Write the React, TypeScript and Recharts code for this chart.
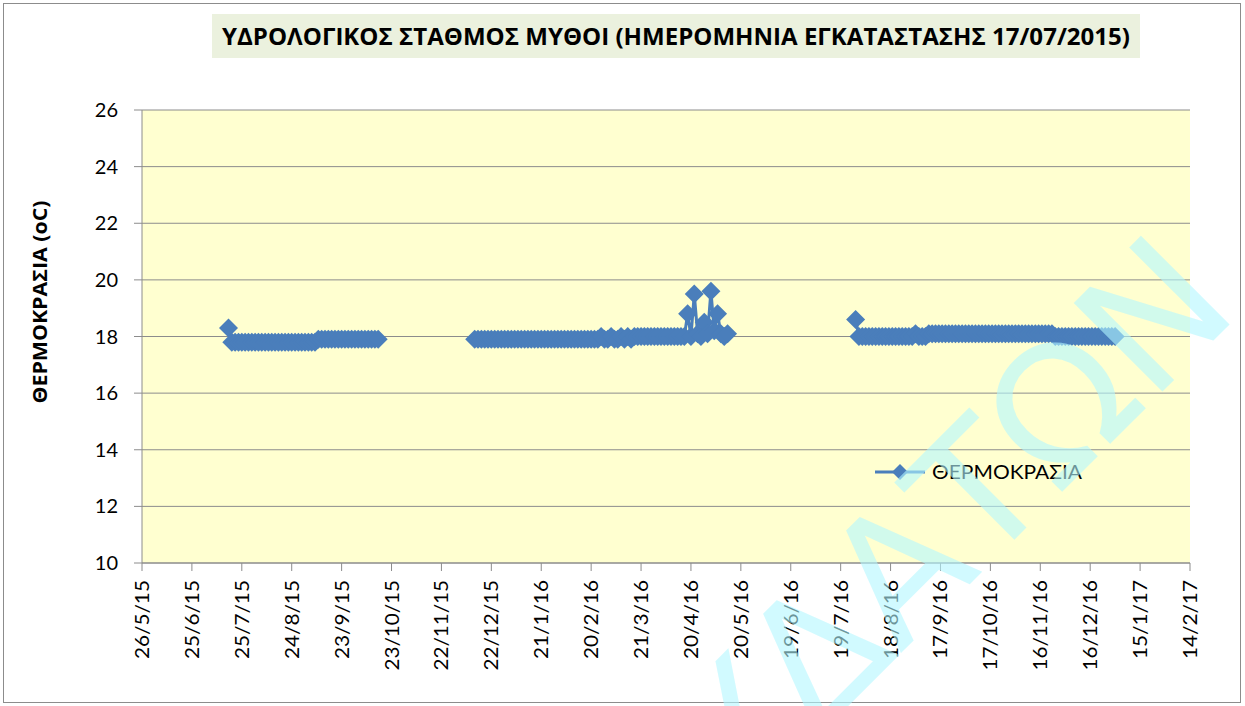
import React from 'react';
import { LineChart, Line, XAxis, YAxis, CartesianGrid } from 'recharts';

const xTickLabels = [
  '26/5/15', '25/6/15', '25/7/15', '24/8/15', '23/9/15', '23/10/15', '22/11/15',
  '22/12/15', '21/1/16', '20/2/16', '21/3/16', '20/4/16', '20/5/16', '19/6/16',
  '19/7/16', '18/8/16', '17/9/16', '17/10/16', '16/11/16', '16/12/16', '15/1/17',
  '14/2/17',
];
const yTicks = [10, 12, 14, 16, 18, 20, 22, 24, 26];

// readings every 2 days, three recording periods
const seg1Start = '2015-07-17';
const seg1 = [
  18.3,
  17.8, 17.8, 17.8, 17.8, 17.8, 17.8, 17.8, 17.8, 17.8, 17.8,
  17.8, 17.8, 17.8, 17.8, 17.8, 17.8, 17.8, 17.8, 17.8, 17.8,
  17.8, 17.8, 17.8, 17.8, 17.8, 17.8,
  17.9, 17.9, 17.9, 17.9, 17.9, 17.9, 17.9, 17.9, 17.9, 17.9,
  17.9, 17.9, 17.9, 17.9, 17.9, 17.9, 17.9, 17.9, 17.9,
];
const seg2Start = '2015-12-12';
const seg2 = [
  17.9, 17.9, 17.9, 17.9, 17.9, 17.9, 17.9, 17.9, 17.9, 17.9,
  17.9, 17.9, 17.9, 17.9, 17.9, 17.9, 17.9, 17.9, 17.9, 17.9,
  17.9, 17.9, 17.9, 17.9, 17.9, 17.9, 17.9, 17.9, 17.9, 17.9,
  17.9, 17.9, 17.9, 17.9, 17.9, 17.9, 17.9, 17.9,
  18.0, 17.9, 17.9, 18.0, 17.9, 17.9, 18.0, 17.9, 18.0, 17.9,
  18.0, 18.0, 18.0, 18.0, 18.0, 18.0, 18.0, 18.0, 18.0, 18.0,
  18.0, 18.0, 18.0, 18.0, 18.0, 18.0,
  18.8, 18.0, 19.5, 18.1, 18.0, 18.5, 18.1, 19.6, 18.2, 18.8,
  18.1, 18.0, 18.1,
];
const seg3Start = '2016-07-28';
const seg3 = [
  18.6,
  18.0, 18.0, 18.0, 18.0, 18.0, 18.0, 18.0, 18.0, 18.0, 18.0,
  18.0, 18.0, 18.0, 18.0, 18.0, 18.0, 18.0,
  18.1, 18.0, 18.0, 18.0,
  18.1, 18.1, 18.1, 18.1, 18.1, 18.1, 18.1, 18.1, 18.1, 18.1,
  18.1, 18.1, 18.1, 18.1, 18.1, 18.1, 18.1, 18.1, 18.1, 18.1,
  18.1, 18.1, 18.1, 18.1, 18.1, 18.1, 18.1, 18.1, 18.1, 18.1,
  18.1, 18.1, 18.1, 18.1, 18.1, 18.1, 18.1, 18.1,
  18.0, 18.0, 18.0, 18.0, 18.0, 18.0, 18.0, 18.0, 18.0, 18.0,
  18.0, 18.0, 18.0, 18.0, 18.0, 18.0, 18.0, 18.0, 18.0,
];

const DAY = 86400000;
const labelToDay = (s: string) => {
  const [d, m, y] = s.split('/').map(Number);
  return Date.UTC(2000 + y, m - 1, d) / DAY;
};
const isoToDay = (s: string) => {
  const [y, m, d] = s.split('-').map(Number);
  return Date.UTC(y, m - 1, d) / DAY;
};
const dayToLabel = (day: number) => {
  const dt = new Date(day * DAY);
  return `${dt.getUTCDate()}/${dt.getUTCMonth() + 1}/${dt.getUTCFullYear() % 100}`;
};

const xTicks = xTickLabels.map(labelToDay);

const data: { day: number; temp: number | null }[] = [];
[
  [seg1Start, seg1],
  [seg2Start, seg2],
  [seg3Start, seg3],
].forEach(([start, vals]: any) => {
  const s = isoToDay(start);
  vals.forEach((v: number, i: number) => data.push({ day: s + i * 2, temp: v }));
  data.push({ day: s + vals.length * 2, temp: null });
});

const BLUE = '#4A7EBB';
const GRID = '#8C8C8C';
const FONT = 'Lato, "Open Sans", sans-serif';

const Diamond = (props: any) => {
  const { cx, cy, value, index } = props;
  if (cx == null || cy == null || value == null) return <g key={index} />;
  const r = 9.5;
  return (
    <path
      key={index}
      d={`M${cx},${cy - r}L${cx + r},${cy}L${cx},${cy + r}L${cx - r},${cy}Z`}
      fill={BLUE}
    />
  );
};

const DateTick = ({ x, y, payload }: any) => {
  const label = dayToLabel(payload.value);
  return (
    <text
      x={x}
      y={y}
      transform={`rotate(-90, ${x}, ${y})`}
      textAnchor="end"
      dy="0.35em"
      fontSize={20}
      fontFamily={FONT}
      fill="#000"
      textLength={label.length * 11.3}
      lengthAdjust="spacingAndGlyphs"
    >
      {label}
    </text>
  );
};

export default function App() {
  return (
    <div style={{ position: 'absolute', left: 0, top: 0, width: 1245, height: 706, background: '#fff' }}>
      <LineChart
        width={1245}
        height={706}
        data={data}
        margin={{ top: 110, right: 55, bottom: 43, left: 22 }}
      >
        <CartesianGrid vertical={false} stroke={GRID} fill="#FFFFD0" fillOpacity={1} />
        <XAxis
          dataKey="day"
          type="number"
          domain={[xTicks[0], xTicks[xTicks.length - 1]]}
          ticks={xTicks}
          interval={0}
          height={100}
          tickSize={8}
          tickMargin={9}
          stroke={GRID}
          tick={<DateTick />}
        />
        <YAxis
          domain={[10, 26]}
          ticks={yTicks}
          width={120}
          tickSize={8}
          tickMargin={16}
          stroke={GRID}
          tick={{ fill: '#000', fontSize: 20, fontFamily: FONT }}
        />
        <Line
          dataKey="temp"
          stroke={BLUE}
          strokeWidth={3}
          dot={Diamond}
          activeDot={false}
          connectNulls={false}
          isAnimationActive={false}
        />
      </LineChart>
      <svg
        width={1245}
        height={706}
        style={{ position: 'absolute', left: 0, top: 0, pointerEvents: 'none' }}
      >
        <rect x={3.5} y={3.5} width={1237} height={699} fill="none" stroke={GRID} />
        <rect x={212} y={14} width={928} height={44} fill="#EBF1DE" />
        <text
          x={676}
          y={45}
          textAnchor="middle"
          fontSize={24}
          fontWeight={700}
          fontFamily='"Open Sans", Lato, sans-serif'
          textLength={908}
          lengthAdjust="spacingAndGlyphs"
        >
          ΥΔΡΟΛΟΓΙΚΟΣ ΣΤΑΘΜΟΣ  ΜΥΘΟΙ (ΗΜΕΡΟΜΗΝΙΑ ΕΓΚΑΤΑΣΤΑΣΗΣ 17/07/2015)
        </text>
        <text
          x={40}
          y={302}
          transform="rotate(-90, 40, 302)"
          textAnchor="middle"
          dy="0.35em"
          fontSize={19}
          fontWeight={700}
          fontFamily='"Open Sans", Lato, sans-serif'
          textLength={203}
          lengthAdjust="spacingAndGlyphs"
        >
          ΘΕΡΜΟΚΡΑΣΙΑ (oC)
        </text>
        <line x1={875} y1={472} x2={925} y2={472} stroke={BLUE} strokeWidth={3} />
        <path d="M900,464L908,472L900,480L892,472Z" fill={BLUE} />
        <text x={932} y={479} fontSize={20} fontFamily={FONT} textLength={150} lengthAdjust="spacingAndGlyphs">
          ΘΕΡΜΟΚΡΑΣΙΑ
        </text>
        <text
          x={950}
          y={520}
          transform="rotate(-45, 950, 520)"
          textAnchor="middle"
          dominantBaseline="central"
          fontSize={172}
          fontFamily='"DejaVu Sans", sans-serif'
          fill="#B2F7FF"
          fillOpacity={0.6}
        >
          ΥΔΑΤΩΝ
        </text>
      </svg>
    </div>
  );
}
